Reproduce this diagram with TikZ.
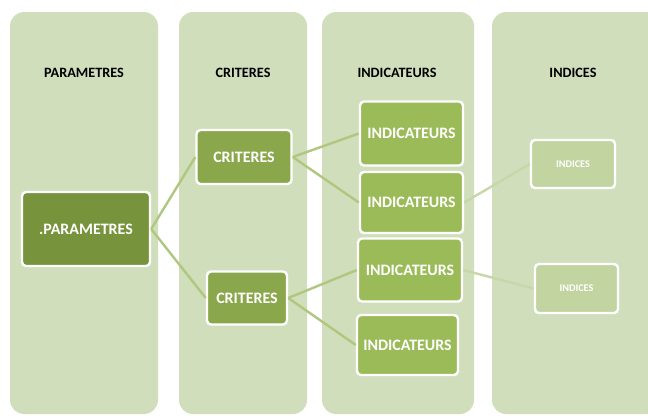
\documentclass[tikz,border=0pt]{standalone}
\usepackage{fontspec}
\setmainfont{Carlito}
\definecolor{colonne}{HTML}{D1DEBC}
\definecolor{vertpar}{HTML}{77933C}
\definecolor{vertcri}{HTML}{8AA84B}
\definecolor{vertind}{HTML}{9BBB59}
\definecolor{vertidx}{HTML}{C2D49F}
\definecolor{lien}{HTML}{AFC77F}
\definecolor{lienclair}{HTML}{C6D8A8}
\tikzset{
  colbox/.style={fill=colonne, rounded corners=14bp},
  titre/.style={font=\bfseries\fontsize{14.3}{16}\selectfont, text=black},
  boite/.style={draw=white, line width=2.4bp, rounded corners=4bp, text=white,
    font=\bfseries\fontsize{16}{18}\selectfont, inner sep=0pt},
  petit/.style={font=\bfseries\fontsize{10.3}{12}\selectfont},
  lienvert/.style={draw=lien, line width=2.4bp},
}
\begin{document}
\begin{tikzpicture}[x=1bp, y=-1bp]
		%%%%% START %%%%%
		\useasboundingbox[fill=white] (0, 0) rectangle (648, 415);
		
		\fill[colbox] (10, 12) rectangle (158, 414);
		\fill[colbox] (179, 12) rectangle (307, 414);
		\fill[colbox] (322, 12) rectangle (474, 414);
		\fill[colbox] (492, 12) rectangle (660, 414);
		
		\node[titre] (tpar) at (84, 73) {PARAMETRES};
		\node[titre] (tcri) at (243, 73) {CRITERES};
		\node[titre] (tind) at (397, 73) {INDICATEURS};
		\node[titre] (tidx) at (573, 73) {INDICES};
		
		\node[boite, fill=vertpar, minimum width=128bp, minimum height=74bp] (par) at (86, 229) {.PARAMETRES};
		
		\node[boite, fill=vertcri, minimum width=95bp, minimum height=54bp] (cri1) at (244, 157) {CRITERES};
		\node[boite, fill=vertcri, minimum width=80bp, minimum height=53bp] (cri2) at (247, 298) {CRITERES};
		
		\node[boite, fill=vertind, minimum width=103bp, minimum height=64bp] (ind1) at (411.5, 133.5) {INDICATEURS};
		\node[boite, fill=vertind, minimum width=103bp, minimum height=61bp] (ind2) at (411.5, 202.5) {INDICATEURS};
		\node[boite, fill=vertind, minimum width=104bp, minimum height=63bp] (ind3) at (410, 270) {INDICATEURS};
		\node[boite, fill=vertind, minimum width=101bp, minimum height=60bp] (ind4) at (407.5, 345) {INDICATEURS};
		
		\node[boite, petit, fill=vertidx, minimum width=84bp, minimum height=48bp] (idx1) at (573, 164) {INDICES};
		\node[boite, petit, fill=vertidx, minimum width=83bp, minimum height=49bp] (idx2) at (576.5, 288.5) {INDICES};
		
		\draw[lienvert] (par.east) -- (cri1.west);
		\draw[lienvert] (par.east) -- (cri2.west);
		\draw[lienvert] (cri1.east) -- (ind1.west);
		\draw[lienvert] (cri1.east) -- (ind2.west);
		\draw[lienvert] (cri2.east) -- (ind3.west);
		\draw[lienvert] (cri2.east) -- (ind4.west);
		\draw[lienvert, draw=lienclair] (ind2.east) -- (idx1.west);
		\draw[lienvert, draw=lienclair] (ind3.east) -- (idx2.west);
		%%%%% END %%%%%
\end{tikzpicture}
\end{document}
